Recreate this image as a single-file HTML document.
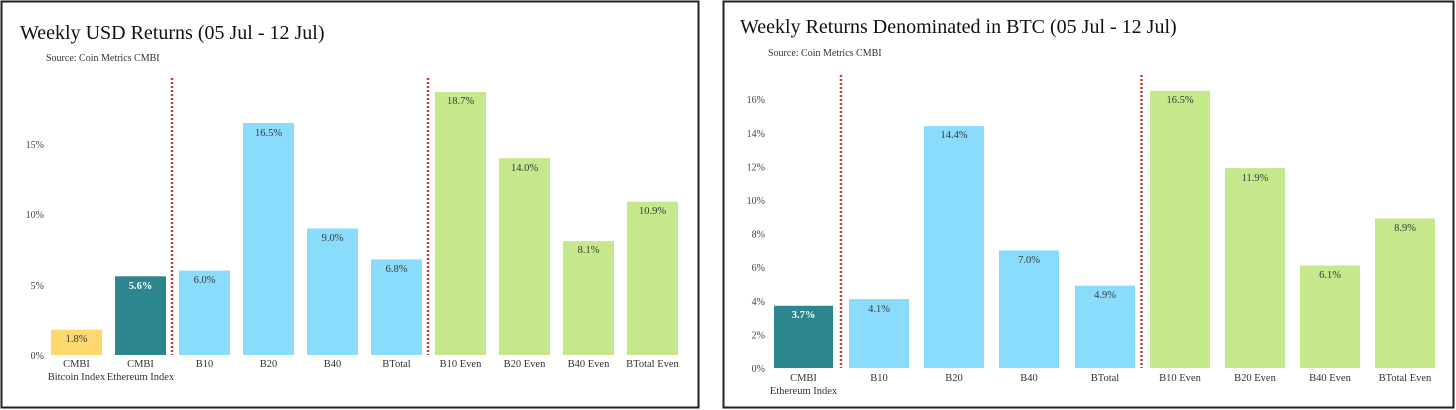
<!DOCTYPE html>
<html><head><meta charset="utf-8"><style>
html,body{margin:0;padding:0;background:#fff}
svg{display:block}
text{font-family:"Liberation Serif",serif;fill:#333}
.t{font-size:20px;fill:#111}
.s{font-size:10px;fill:#333}
.y{font-size:10px;text-anchor:end;fill:#444}
.v{font-size:10.5px;text-anchor:middle;fill:#3a3a3a}
.w{font-size:10.5px;text-anchor:middle;fill:#fff;font-weight:bold}
.c{font-size:10.5px;text-anchor:middle;fill:#333}
</style></head><body>
<svg width="1456" height="410" viewBox="0 0 1456 410">
<rect x="1.5" y="1.5" width="697" height="406" fill="#fff" stroke="#222" stroke-width="2"/>
<rect x="723.5" y="1.5" width="730" height="406" fill="#fff" stroke="#222" stroke-width="2"/>
<!-- LEFT -->
<text class="t" x="20" y="39">Weekly USD Returns (05 Jul - 12 Jul)</text>
<text class="s" x="46" y="61">Source: Coin Metrics CMBI</text>
<text class="y" x="44" y="359">0%</text>
<text class="y" x="44" y="289">5%</text>
<text class="y" x="44" y="218">10%</text>
<text class="y" x="44" y="148">15%</text>
<line x1="172" y1="78" x2="172" y2="355" stroke="#d03a3a" stroke-width="2.5" stroke-dasharray="2,2"/>
<line x1="428" y1="78" x2="428" y2="355" stroke="#d03a3a" stroke-width="2.5" stroke-dasharray="2,2"/>
<rect x="51" y="329.7" width="51" height="25.3" fill="#fdd86e"/><text class="v" x="76.5" y="342">1.8%</text>
<rect x="115" y="276.3" width="51" height="78.7" fill="#2d8590"/><text class="w" x="140.5" y="289">5.6%</text>
<rect x="179" y="270.6" width="51" height="84.4" fill="#8adcfc"/><text class="v" x="204.5" y="283">6.0%</text>
<rect x="243" y="123" width="51" height="232" fill="#8adcfc"/><text class="v" x="268.5" y="136">16.5%</text>
<rect x="307" y="228.5" width="51" height="126.5" fill="#8adcfc"/><text class="v" x="332.5" y="241">9.0%</text>
<rect x="371" y="259.4" width="51" height="95.6" fill="#8adcfc"/><text class="v" x="396.5" y="272">6.8%</text>
<rect x="435" y="92" width="51" height="263" fill="#c5e88c"/><text class="v" x="460.5" y="104">18.7%</text>
<rect x="499" y="158.2" width="51" height="196.8" fill="#c5e88c"/><text class="v" x="524.5" y="171">14.0%</text>
<rect x="563" y="241.1" width="51" height="113.9" fill="#c5e88c"/><text class="v" x="588.5" y="253">8.1%</text>
<rect x="627" y="201.7" width="51" height="153.3" fill="#c5e88c"/><text class="v" x="652.5" y="214">10.9%</text>
<text class="c" x="76.5" y="367">CMBI</text><text class="c" x="76.5" y="380">Bitcoin Index</text>
<text class="c" x="140.5" y="367">CMBI</text><text class="c" x="140.5" y="380">Ethereum Index</text>
<text class="c" x="204.5" y="367">B10</text>
<text class="c" x="268.5" y="367">B20</text>
<text class="c" x="332.5" y="367">B40</text>
<text class="c" x="396.5" y="367">BTotal</text>
<text class="c" x="460.5" y="367">B10 Even</text>
<text class="c" x="524.5" y="367">B20 Even</text>
<text class="c" x="588.5" y="367">B40 Even</text>
<text class="c" x="652.5" y="367">BTotal Even</text>
<!-- RIGHT -->
<text class="t" x="740" y="33">Weekly Returns Denominated in BTC (05 Jul - 12 Jul)</text>
<text class="s" x="768" y="56">Source: Coin Metrics CMBI</text>
<text class="y" x="765" y="372">0%</text>
<text class="y" x="765" y="338.4">2%</text>
<text class="y" x="765" y="304.8">4%</text>
<text class="y" x="765" y="271.2">6%</text>
<text class="y" x="765" y="237.6">8%</text>
<text class="y" x="765" y="204">10%</text>
<text class="y" x="765" y="170.4">12%</text>
<text class="y" x="765" y="136.8">14%</text>
<text class="y" x="765" y="103.2">16%</text>
<line x1="841" y1="75" x2="841" y2="368" stroke="#d03a3a" stroke-width="2.5" stroke-dasharray="2,2"/>
<line x1="1141.5" y1="75" x2="1141.5" y2="368" stroke="#d03a3a" stroke-width="2.5" stroke-dasharray="2,2"/>
<rect x="774" y="305.8" width="59" height="62.2" fill="#2d8590"/><text class="w" x="803.5" y="318">3.7%</text>
<rect x="849" y="299.1" width="60" height="68.9" fill="#8adcfc"/><text class="v" x="879" y="312">4.1%</text>
<rect x="924" y="126.1" width="60" height="241.9" fill="#8adcfc"/><text class="v" x="954" y="138">14.4%</text>
<rect x="999" y="250.4" width="60" height="117.6" fill="#8adcfc"/><text class="v" x="1029" y="263">7.0%</text>
<rect x="1075" y="285.7" width="60" height="82.3" fill="#8adcfc"/><text class="v" x="1105" y="298">4.9%</text>
<rect x="1150" y="90.8" width="60" height="277.2" fill="#c5e88c"/><text class="v" x="1180" y="103">16.5%</text>
<rect x="1225" y="168.1" width="60" height="199.9" fill="#c5e88c"/><text class="v" x="1255" y="181">11.9%</text>
<rect x="1300" y="265.5" width="60" height="102.5" fill="#c5e88c"/><text class="v" x="1330" y="278">6.1%</text>
<rect x="1375" y="218.5" width="60" height="149.5" fill="#c5e88c"/><text class="v" x="1405" y="231">8.9%</text>
<text class="c" x="803.5" y="381">CMBI</text><text class="c" x="803.5" y="394">Ethereum Index</text>
<text class="c" x="879" y="381">B10</text>
<text class="c" x="954" y="381">B20</text>
<text class="c" x="1029" y="381">B40</text>
<text class="c" x="1105" y="381">BTotal</text>
<text class="c" x="1180" y="381">B10 Even</text>
<text class="c" x="1255" y="381">B20 Even</text>
<text class="c" x="1330" y="381">B40 Even</text>
<text class="c" x="1405" y="381">BTotal Even</text>
</svg>
</body></html>
